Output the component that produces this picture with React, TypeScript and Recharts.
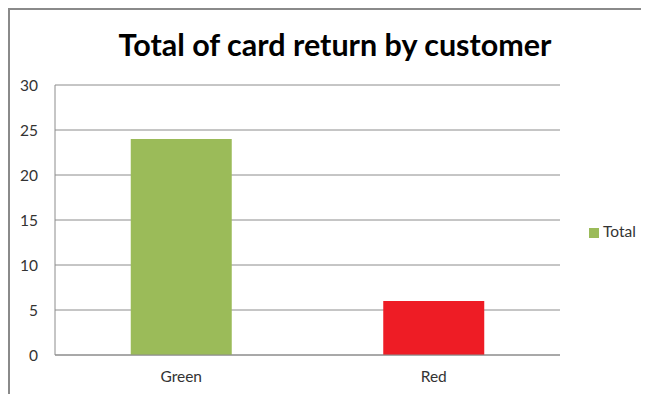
import React from "react";
import { BarChart, Bar, XAxis, YAxis, CartesianGrid, Legend, Cell } from "recharts";

const categories = ["Green", "Red"];
const totals = [24, 6];
const barColors = ["#9BBB59", "#EE1C25"];
const yTicks = [0, 5, 10, 15, 20, 25, 30];

const data = categories.map((c, i) => ({ name: c, Total: totals[i] }));

const FONT = "Lato, sans-serif";

export default function App() {
  return (
    <div
      style={{
        position: "relative",
        width: 641,
        height: 386,
        borderTop: "2px solid #8a8a8a",
        borderLeft: "2px solid #8a8a8a",
        boxSizing: "border-box",
        fontFamily: FONT,
        background: "#fff",
      }}
    >
      <div
        style={{
          position: "absolute",
          left: 0,
          top: 16,
          width: 650,
          textAlign: "center",
          fontSize: 30.5,
          fontWeight: 700,
          color: "#000",
          fontFamily: FONT,
          lineHeight: "36px",
        }}
      >
        Total of card return by customer
      </div>
      <BarChart
        width={639}
        height={384}
        data={data}
        margin={{ top: 75, right: 29, bottom: 9, left: 0 }}
        barCategoryGap="30%"
        style={{ position: "absolute", left: 0, top: 0 }}
      >
        <CartesianGrid vertical={false} stroke="#8c8c8c" strokeWidth={1} />
        <XAxis
          dataKey="name"
          tickLine={false}
          stroke="#8c8c8c"
          tickSize={0}
          tickMargin={16}
          tick={{ fill: "#333", fontSize: 15.5, fontFamily: FONT }}
        />
        <YAxis
          width={45}
          domain={[0, 30]}
          ticks={yTicks}
          tickLine={false}
          stroke="#8c8c8c"
          tickSize={8}
          tickMargin={9}
          tick={{ fill: "#333", fontSize: 15.5, fontFamily: FONT }}
        />
        <Legend
          layout="vertical"
          align="right"
          verticalAlign="middle"
          iconType="square"
          iconSize={10}
          wrapperStyle={{ right: 0, top: 212, width: 60, fontSize: 15.5, fontFamily: FONT }}
          formatter={(v: string) => <span style={{ color: "#333" }}>{v}</span>}
        />
        <Bar dataKey="Total" fill="#9BBB59" isAnimationActive={false}>
          {data.map((d, i) => (
            <Cell key={d.name} fill={barColors[i]} />
          ))}
        </Bar>
      </BarChart>
    </div>
  );
}
